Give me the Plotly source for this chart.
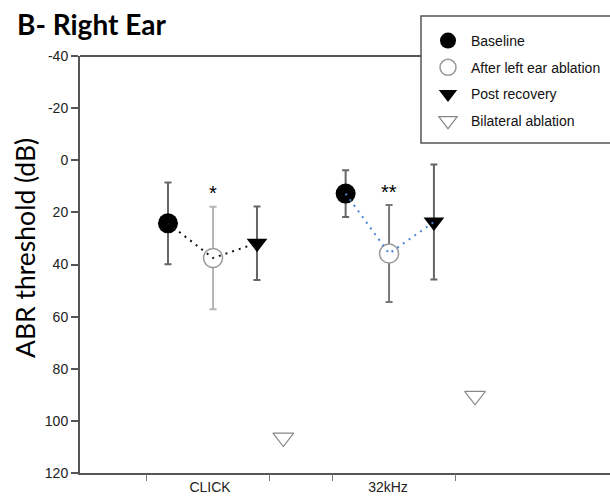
import plotly.graph_objects as go

# ---------------- data ----------------
categories = ["CLICK", "32kHz"]
category_pos = [1, 2]
boundary_ticks = [0.644, 1.333, 1.687, 2.382]

series_names = ["Baseline", "After left ear ablation", "Post recovery", "Bilateral ablation"]

baseline_x = [0.764, 1.762]
baseline = [24.2, 12.8]
baseline_err = [15.7, 9.0]

after_x = [1.017, 2.006]
after = [37.5, 35.8]
after_err = [19.7, 18.6]

post_x = [1.264, 2.258]
post = [31.8, 23.7]
post_err = [14.1, 22.1]

bilateral_x = [1.412, 2.489]
bilateral = [106.4, 90.4]

sig_labels = ["*", "**"]
sig_y = [12.6, 12.3]

y_ticks = [-40, -20, 0, 20, 40, 60, 80, 100, 120]
y_tick_labels = ["-40", "-20", "0", "20", "40", "60", "80", "100", "120"]

# ---------------- styles ----------------
err_colors = {
    "base": ["#666666", "#666666"],
    "after": ["#b5b5b5", "#787878"],
    "post": ["#666666", "#666666"],
}
line_colors = ["#111111", "#4a86d4"]

fig = go.Figure()

# error bars (per point, since colours differ)
def add_err(xs, ys, errs, colors):
    for xv, yv, ev, c in zip(xs, ys, errs, colors):
        fig.add_trace(go.Scatter(
            x=[xv], y=[yv], mode="markers",
            marker=dict(size=1, color="rgba(0,0,0,0)"),
            error_y=dict(type="data", array=[ev], color=c, thickness=2, width=3.5),
            showlegend=False, hoverinfo="skip"))

add_err(baseline_x, baseline, baseline_err, err_colors["base"])
add_err(after_x, after, after_err, err_colors["after"])
add_err(post_x, post, post_err, err_colors["post"])

# markers
fig.add_trace(go.Scatter(x=baseline_x, y=baseline, mode="markers", name=series_names[0],
                         marker=dict(symbol="circle", size=20, color="black"),
                         legendgroup="a"))
fig.add_trace(go.Scatter(x=after_x, y=after, mode="markers", name=series_names[1],
                         marker=dict(symbol="circle", size=19, color="white",
                                     line=dict(color="#9a9a9a", width=1.5)),
                         legendgroup="b"))
fig.add_trace(go.Scatter(x=post_x, y=post, mode="markers", name=series_names[2],
                         marker=dict(symbol="triangle-down", size=18, color="black"),
                         legendgroup="c"))
fig.add_trace(go.Scatter(x=bilateral_x, y=bilateral, mode="markers", name=series_names[3],
                         marker=dict(symbol="triangle-down", size=18, color="white",
                                     line=dict(color="#888888", width=1.2)),
                         legendgroup="d"))

# dotted connecting lines (on top)
for i in range(len(categories)):
    fig.add_trace(go.Scatter(
        x=[baseline_x[i], after_x[i], post_x[i]],
        y=[baseline[i], after[i], post[i]],
        mode="lines", line=dict(color=line_colors[i], width=2, dash="2px,5px"),
        showlegend=False, hoverinfo="skip"))

# significance stars
for i in range(len(categories)):
    fig.add_annotation(x=after_x[i], y=sig_y[i], xref="x", yref="y", text=sig_labels[i],
                       showarrow=False, font=dict(family="Liberation Sans", size=20, color="black"),
                       xanchor="center", yanchor="middle")

# plot-area geometry in pixels
W, H = 610, 498
L, R, T, B = 80, 0, 56, 25
pw, ph = W - L - R, H - T - B

def px_x(p):
    return (p - L) / pw

def px_y(p):
    return 1 - (p - T) / ph

x_range = [0.2697, 3.2472]

fig.update_layout(
    width=W, height=H,
    margin=dict(l=L, r=R, t=T, b=B, pad=0),
    paper_bgcolor="white", plot_bgcolor="white",
    showlegend=True,
    title=dict(text="<b>B- Right Ear</b>", xref="container", yref="container",
               x=17 / W, xanchor="left", y=1 - 25 / H, yanchor="middle",
               font=dict(family="Lato", size=28, color="black")),
    xaxis=dict(range=x_range, tickmode="array", tickvals=category_pos, ticktext=categories,
               ticks="", showgrid=False, zeroline=False,
               showline=True, linecolor="#555555", linewidth=2,
               tickfont=dict(family="Liberation Sans", size=14, color="#222222")),
    xaxis2=dict(range=x_range, overlaying="x", anchor="y", side="bottom",
                tickmode="array", tickvals=boundary_ticks, ticks="outside", ticklen=7,
                tickwidth=1, tickcolor="#777777", showticklabels=False,
                showgrid=False, zeroline=False, showline=False),
    yaxis=dict(range=[120, -40], tickmode="array", tickvals=y_ticks, ticktext=y_tick_labels,
               ticks="outside", ticklen=7, tickwidth=1.5, tickcolor="#555555",
               showgrid=False, zeroline=False,
               showline=True, linecolor="#555555", linewidth=2,
               tickfont=dict(family="Liberation Sans", size=14, color="#222222")),
    legend=dict(x=px_x(425), y=px_y(25), xanchor="left", yanchor="top",
                bgcolor="rgba(0,0,0,0)", borderwidth=0, tracegroupgap=5.5,
                itemsizing="trace", itemwidth=36,
                font=dict(family="Liberation Sans", size=14, color="#111111")),
    hovermode=False,
)

# dummy trace on xaxis2 so its ticks render
fig.add_trace(go.Scatter(x=[boundary_ticks[0]], y=[None], xaxis="x2", yaxis="y",
                         mode="markers", showlegend=False, hoverinfo="skip"))

# top spine (up to the legend box) and legend box
fig.add_shape(type="line", xref="paper", yref="paper", x0=0, x1=px_x(421), y0=1, y1=1,
              line=dict(color="#555555", width=2))
fig.add_shape(type="rect", xref="paper", yref="paper", x0=px_x(421), x1=px_x(640),
              y0=px_y(143), y1=px_y(16), line=dict(color="#555555", width=1.5),
              fillcolor="rgba(0,0,0,0)", layer="above")

# y-axis title
fig.add_annotation(text="ABR threshold (dB)", xref="paper", yref="paper",
                   x=px_x(25), y=px_y(248), textangle=-90, showarrow=False,
                   xanchor="center", yanchor="middle",
                   font=dict(family="Lato", size=26.5, color="black"))

fig.write_html("out.html")
